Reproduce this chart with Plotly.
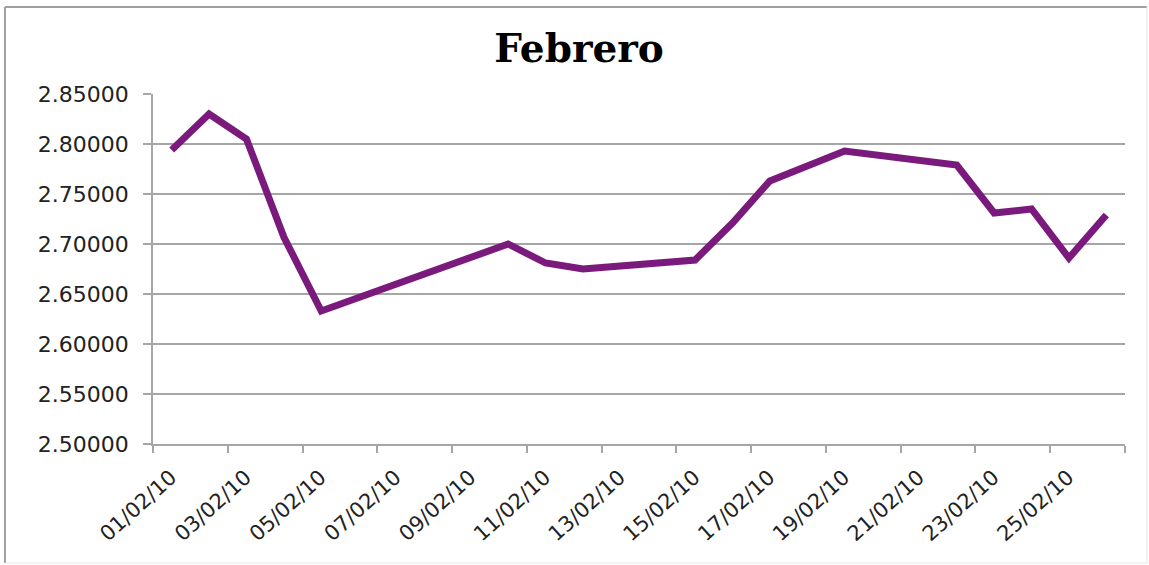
import plotly.graph_objects as go
import pandas as pd

dates = ["2010-02-01", "2010-02-02", "2010-02-03", "2010-02-04", "2010-02-05",
         "2010-02-10", "2010-02-11", "2010-02-12",
         "2010-02-15", "2010-02-16", "2010-02-17", "2010-02-18", "2010-02-19",
         "2010-02-22", "2010-02-23", "2010-02-24", "2010-02-25", "2010-02-26"]
values = [2.794, 2.830, 2.805, 2.707, 2.633,
          2.700, 2.681, 2.675,
          2.684, 2.721, 2.763, 2.778, 2.793,
          2.779, 2.731, 2.735, 2.686, 2.729]

tick_dates = pd.date_range("2010-02-01", "2010-02-27", freq="2D")
tick_labels = [d.strftime("%d/%m/%y") for d in tick_dates]
tick_labels[-1] = ""
tick_pos = [d - pd.Timedelta(hours=12) for d in tick_dates]

y_ticks = [2.50, 2.55, 2.60, 2.65, 2.70, 2.75, 2.80, 2.85]
y_labels = [f"{v:.5f}" for v in y_ticks]

fig = go.Figure()
fig.add_trace(go.Scatter(
    x=pd.to_datetime(dates), y=values, mode="lines",
    line=dict(color="#7a1a7c", width=7),
    showlegend=False, hoverinfo="skip",
))

grey = "#a6a6a6"
fig.update_layout(
    width=1149, height=565,
    margin=dict(l=153, r=24, t=94, b=121),
    paper_bgcolor="white", plot_bgcolor="white",
    title=dict(text="<b>Febrero</b>", x=0.504, xanchor="center", y=0.915, yanchor="middle",
               font=dict(family="DejaVu Serif", size=39, color="black")),
    xaxis=dict(
        type="date",
        range=[tick_pos[0], tick_pos[-1]],
        tickmode="array", tickvals=tick_pos, ticktext=tick_labels,
        tickangle=-42, ticks="outside", ticklen=7, tickcolor=grey, tickwidth=1.5,
        showline=True, linecolor=grey, linewidth=1.5,
        showgrid=False, zeroline=False,
        ticklabelshift=18, ticklabelstandoff=4,
        tickfont=dict(family="DejaVu Sans", size=21, color="#222222"),
    ),
    yaxis=dict(
        range=[2.50, 2.85],
        tickmode="array", tickvals=y_ticks, ticktext=y_labels,
        ticks="outside", ticklen=8, tickcolor=grey, tickwidth=1.5,
        showline=True, linecolor=grey, linewidth=1.5,
        showgrid=True, gridcolor=grey, gridwidth=1.5,
        zeroline=False,
        ticklabelstandoff=10,
        tickfont=dict(family="DejaVu Sans", size=22, color="#222222"),
    ),
    shapes=[
        dict(type="line", xref="paper", yref="paper", x0=-0.1523, x1=-0.1523, y0=-0.34, y1=1.2486,
             line=dict(color="#a0a0a0", width=2)),
        dict(type="line", xref="paper", yref="paper", x0=-0.1523, x1=1.0226, y0=1.2486, y1=1.2486,
             line=dict(color="#a0a0a0", width=2)),
        dict(type="line", xref="paper", yref="paper", x0=1.0226, x1=1.0226, y0=-0.34, y1=1.2486,
             line=dict(color="#e6e6e6", width=1)),
        dict(type="line", xref="paper", yref="paper", x0=-0.1523, x1=1.0226, y0=-0.34, y1=-0.34,
             line=dict(color="#e6e6e6", width=1)),
    ],
)

fig.write_html("out.html", config={"displayModeBar": False},
               post_script="document.body.style.margin='0';document.body.style.overflow='hidden';")
